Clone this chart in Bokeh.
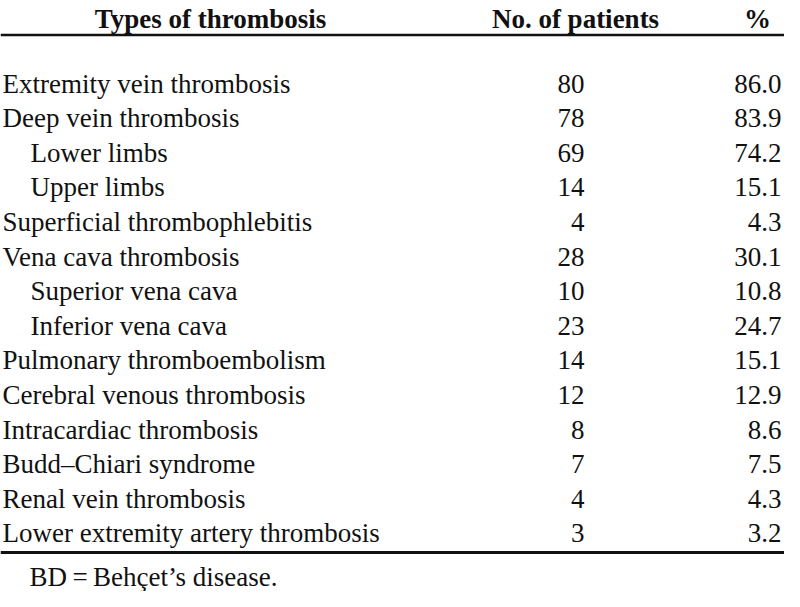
from bokeh.plotting import figure
from bokeh.models import ColumnDataSource, Range1d, Span
from bokeh.core.properties import value
from bokeh.embed import file_html
from bokeh.resources import INLINE

# ---- data ----
types = ["Extremity vein thrombosis", "Deep vein thrombosis", "Lower limbs", "Upper limbs",
         "Superficial thrombophlebitis", "Vena cava thrombosis", "Superior vena cava",
         "Inferior vena cava", "Pulmonary thromboembolism", "Cerebral venous thrombosis",
         "Intracardiac thrombosis", "Budd\u2013Chiari syndrome", "Renal vein thrombosis",
         "Lower extremity artery thrombosis"]
patients = [80, 78, 69, 14, 4, 28, 10, 23, 14, 12, 8, 7, 4, 3]
percent = [86.0, 83.9, 74.2, 15.1, 4.3, 30.1, 10.8, 24.7, 15.1, 12.9, 8.6, 7.5, 4.3, 3.2]
indent = [0, 0, 1, 1, 0, 0, 1, 1, 0, 0, 0, 0, 0, 0]
headers = ["Types of thrombosis", "No. of patients", "%"]
footnote = "BD\u2009=\u2009Beh\u00e7et\u2019s disease."

# ---- layout constants (pixels / row units) ----
W, H = 784, 591
FONT = "Liberation Serif"
FS = "27px"
X_LABEL, X_INDENT = 2, 30
X_NUM_R, X_PCT_R = 584, 781
X_HDR = [210, 575, 757]
Y_HDR, Y_TOP, Y_BOT, Y_FOOT = -1.85, -1.402, 13.555, 14.25

rows = list(range(len(types)))
src = ColumnDataSource(dict(
    y=rows,
    label=types,
    lx=[X_INDENT if i else X_LABEL for i in indent],
    nx=[X_NUM_R] * len(rows),
    px=[X_PCT_R] * len(rows),
    num=[str(v) for v in patients],
    pct=[f"{v:.1f}" for v in percent],
))

p = figure(width=W, height=H, output_backend="svg", toolbar_location=None,
           x_range=Range1d(0, W), y_range=Range1d(14.682, -2.399),
           min_border=0)
p.axis.visible = False
p.grid.visible = False
p.outline_line_color = None
p.background_fill_color = "white"
p.border_fill_color = "white"

common = dict(text_font=value(FONT), text_font_size=FS, text_color="#111111",
              text_baseline="alphabetic")
p.text(x="lx", y="y", text="label", source=src, text_align="left", **common)
p.text(x="nx", y="y", text="num", source=src, text_align="right", **common)
p.text(x="px", y="y", text="pct", source=src, text_align="right", **common)

hsrc = ColumnDataSource(dict(x=X_HDR, y=[Y_HDR] * 3, t=headers))
p.text(x="x", y="y", text="t", source=hsrc, text_align="center",
       text_font_style="bold", **common)

fsrc = ColumnDataSource(dict(x=[X_INDENT - 1], y=[Y_FOOT], t=[footnote]))
p.text(x="x", y="y", text="t", source=fsrc, text_align="left", **common)

p.add_layout(Span(location=Y_TOP, dimension="width", line_color="#111111", line_width=2.5))
p.add_layout(Span(location=Y_BOT, dimension="width", line_color="#111111", line_width=3))

open("out.html", "w").write(file_html(p, INLINE))
